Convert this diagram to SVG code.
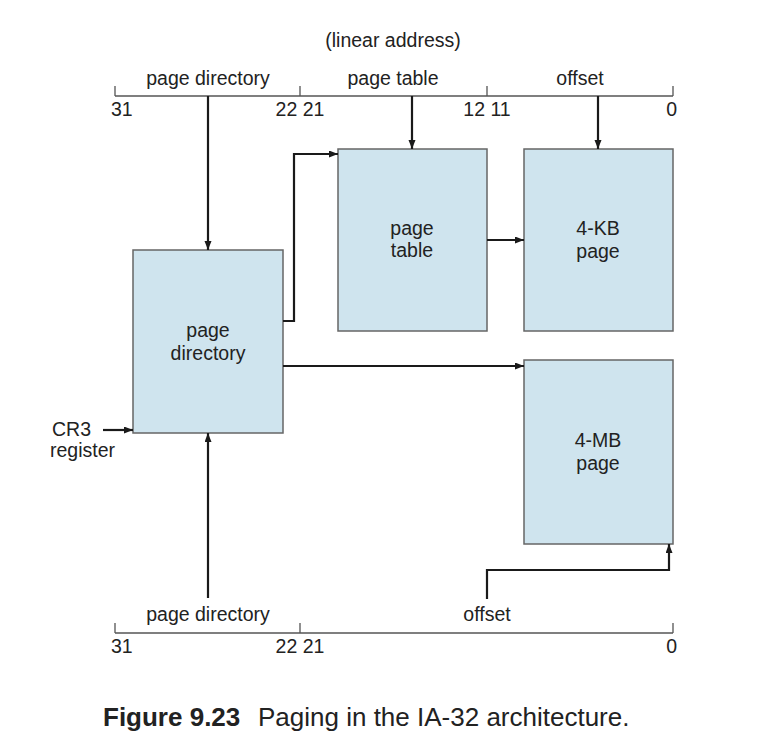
<svg xmlns="http://www.w3.org/2000/svg" width="770" height="748" viewBox="0 0 770 748">
<style>
text{font-family:"Liberation Sans",Arial,sans-serif;font-size:19.5px;fill:#222}
.mid{text-anchor:middle}
.end{text-anchor:end}
.box{fill:#cfe4ee;stroke:#666;stroke-width:1.5}
.scale{stroke:#555;stroke-width:1.3;fill:none}
.conn{stroke:#1a1a1a;stroke-width:2.2;fill:none}
.cap{font-size:26px}
</style>
<defs>
<marker id="ah" markerUnits="userSpaceOnUse" markerWidth="10" markerHeight="8" refX="9" refY="3.5" orient="auto">
<path d="M0,0 L9,3.5 L0,7 z" fill="#1a1a1a"/>
</marker>
</defs>
<rect width="770" height="748" fill="#fff"/>

<g id="linear-address">
<text class="mid" x="393" y="47">(linear address)</text>
<path class="scale" d="M115,96 H673 M115,86 V96 M300,86 V96 M487,86 V96 M673,86 V96"/>
<text class="mid" x="208" y="85">page directory</text>
<text class="mid" x="393" y="85">page table</text>
<text class="mid" x="580" y="85">offset</text>
<text x="111" y="116">31</text>
<text class="mid" x="300" y="116">22 21</text>
<text class="mid" x="487" y="116">12 11</text>
<text class="end" x="677" y="116">0</text>
</g>

<g id="linear-address-4mb">
<path class="scale" d="M115,633 H673 M115,623 V633 M300,623 V633 M673,623 V633"/>
<text class="mid" x="208" y="621">page directory</text>
<text class="mid" x="487" y="621">offset</text>
<text x="111" y="653">31</text>
<text class="mid" x="300" y="653">22 21</text>
<text class="end" x="677" y="653">0</text>
</g>

<g id="page-directory">
<rect class="box" x="133" y="250" width="150" height="183"/>
<text class="mid" x="208" y="337">page</text>
<text class="mid" x="208" y="360">directory</text>
</g>

<g id="page-table">
<rect class="box" x="338" y="149" width="149" height="182"/>
<text class="mid" x="412" y="235">page</text>
<text class="mid" x="412" y="257">table</text>
</g>

<g id="page-4kb">
<rect class="box" x="524" y="149" width="149" height="182"/>
<text class="mid" x="598" y="235">4-KB</text>
<text class="mid" x="598" y="258">page</text>
</g>

<g id="page-4mb">
<rect class="box" x="524" y="360" width="149" height="184"/>
<text class="mid" x="598" y="447">4-MB</text>
<text class="mid" x="598" y="470">page</text>
</g>

<g id="cr3">
<text x="52" y="436">CR3</text>
<text x="50" y="457">register</text>
</g>

<g id="connectors">
<path class="conn" d="M208,96 V250" marker-end="url(#ah)"/>
<path class="conn" d="M412,96 V149" marker-end="url(#ah)"/>
<path class="conn" d="M598,96 V149" marker-end="url(#ah)"/>
<path class="conn" d="M283,321 H294 V154 H338" marker-end="url(#ah)"/>
<path class="conn" d="M487,240 H524" marker-end="url(#ah)"/>
<path class="conn" d="M283,366 H524" marker-end="url(#ah)"/>
<path class="conn" d="M103,430 H133" marker-end="url(#ah)"/>
<path class="conn" d="M208,598 V433" marker-end="url(#ah)"/>
<path class="conn" d="M487,599 V570 H669 V544" marker-end="url(#ah)"/>
</g>

<g id="caption">
<text class="cap" x="103" y="726"><tspan font-weight="bold">Figure 9.23</tspan><tspan x="258">Paging in the IA-32 architecture.</tspan></text>
</g>
</svg>
